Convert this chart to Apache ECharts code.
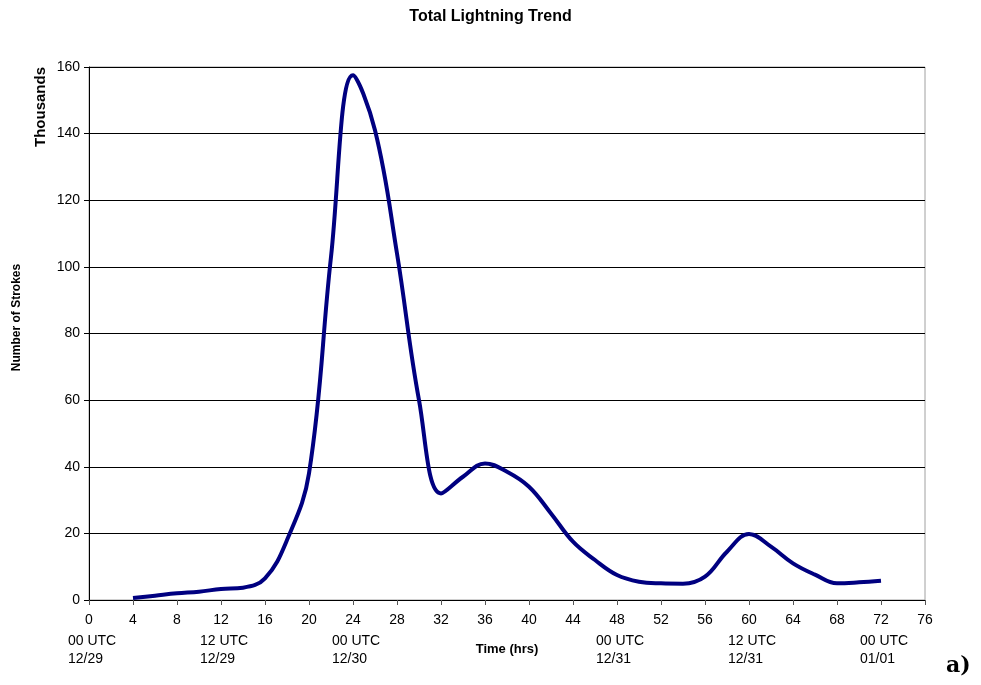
<!DOCTYPE html>
<html>
<head>
<meta charset="utf-8">
<script src="https://cdn.jsdelivr.net/npm/echarts@6/dist/echarts.min.js"></script>
<style>
  html, body { margin: 0; padding: 0; background: #fff; }
  #main { width: 981px; height: 685px; }
</style>
</head>
<body>
<div id="main"></div>
<script>
// hours since 00 UTC 12/29, strokes in thousands
var hours = [4, 6, 8, 10, 12, 14, 16, 18, 20, 22, 24, 26, 28, 30, 32, 34, 36, 38, 40, 42, 44, 46, 48, 50, 52, 54, 56, 58, 60, 62, 64, 66, 68, 70, 72];
var strokes = [0.6, 1.3, 2, 2.5, 3.3, 3.7, 6.5, 18, 38, 103, 157.5, 141, 104, 60, 32, 37, 41, 38.5, 34, 26, 17.5, 12, 7.5, 5.5, 5, 4.9, 7, 14.5, 19.8, 16, 11, 7.6, 5, 5.3, 5.8];
var dateTicks = { 0: '00 UTC\n12/29', 12: '12 UTC\n12/29', 24: '00 UTC\n12/30', 48: '00 UTC\n12/31', 60: '12 UTC\n12/31', 72: '00 UTC\n01/01' };

var chart = echarts.init(document.getElementById('main'));
var font = 'Liberation Sans, Arial, sans-serif';

var option = {
    backgroundColor: '#fff',
    animation: false,
    title: {
        text: 'Total Lightning Trend',
        left: 'center',
        top: 4,
        textStyle: { fontFamily: font, fontSize: 16, fontWeight: 'bold', color: '#000' }
    },
    grid: {
        left: 89, right: 56, top: 67, bottom: 85,
        outerBoundsMode: 'none',
        show: true, borderColor: '#a0a0a0', borderWidth: 1
    },
    xAxis: [{
        type: 'value',
        min: 0, max: 76, interval: 4,
        name: 'Time (hrs)',
        nameLocation: 'middle',
        nameGap: 43,
        nameTextStyle: { fontFamily: font, fontSize: 13, fontWeight: 'bold', color: '#000' },
        axisLine: { lineStyle: { color: '#000', width: 1 } },
        axisTick: { length: 5, lineStyle: { color: '#555' } },
        axisLabel: { fontFamily: font, fontSize: 14, color: '#000', margin: 13 },
        splitLine: { show: false }
    }, {
        type: 'value',
        min: 0, max: 76, interval: 12,
        position: 'bottom',
        axisLine: { show: false },
        axisTick: { show: false },
        splitLine: { show: false },
        axisLabel: {
            margin: 32,
            formatter: function (v) {
                return dateTicks[v] ? '{d|' + dateTicks[v].replace('\n', '}\n{d|') + '}' : '';
            },
            rich: {
                d: { fontFamily: font, fontSize: 14, color: '#000', width: 42, align: 'left', lineHeight: 18 }
            }
        }
    }],
    yAxis: {
        type: 'value',
        min: 0, max: 160, interval: 20,
        name: 'Number of Strokes',
        nameLocation: 'middle',
        nameGap: 66,
        nameTextStyle: { fontFamily: font, fontSize: 12, fontWeight: 'bold', color: '#000', padding: [0, 0, 0, 32] },
        axisLine: { show: true, lineStyle: { color: '#000', width: 1 } },
        axisTick: { show: true, length: 5, lineStyle: { color: '#000' } },
        axisLabel: { fontFamily: font, fontSize: 14, color: '#000', margin: 9 },
        splitLine: { lineStyle: { color: '#000', width: 1 } }
    },
    graphic: [{
        type: 'text',
        left: 33, top: 67,
        rotation: Math.PI / 2,
        style: { text: 'Thousands', font: 'bold 15px ' + font, fill: '#000' }
    }, {
        type: 'text',
        left: 946, top: 655,
        style: { text: 'a)', font: 'bold 22px "DejaVu Serif", "Liberation Serif", serif', fill: '#000' }
    }],
    series: [{
        type: 'line',
        xAxisIndex: 0,
        data: hours.map(function (h, i) { return [h, strokes[i]]; }),
        smooth: 0.4,
        showSymbol: false,
        lineStyle: { color: '#000080', width: 4 }
    }]
};
chart.setOption(option);
</script>
</body>
</html>
